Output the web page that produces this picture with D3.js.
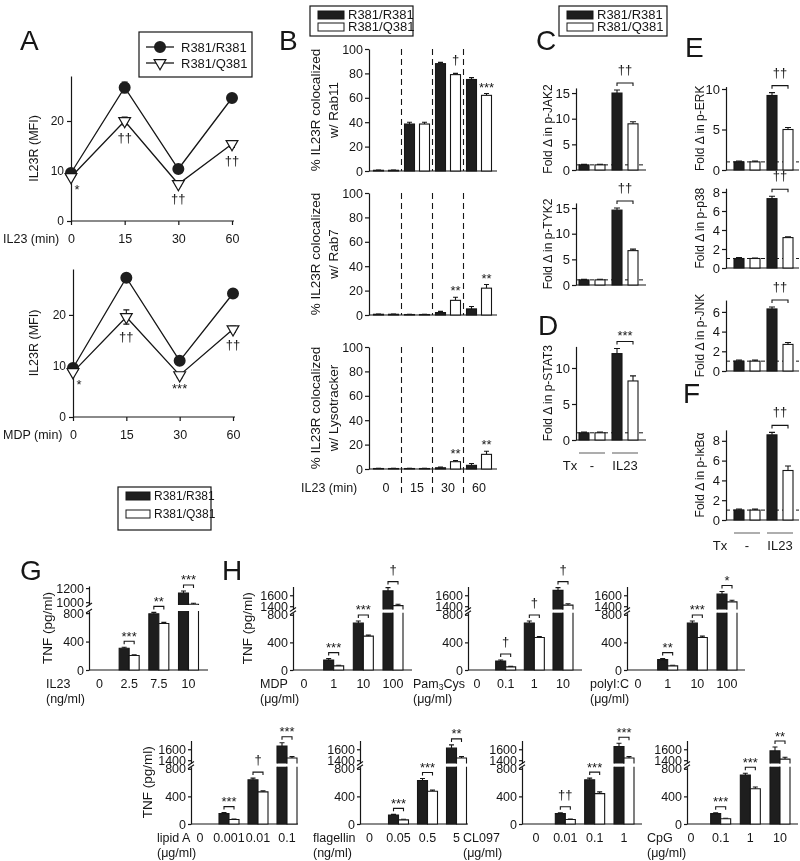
<!DOCTYPE html>
<html><head><meta charset="utf-8">
<script src="https://cdn.jsdelivr.net/npm/d3@7"></script>
<style>
body{margin:0;background:#fff}
svg{display:block;filter:grayscale(100%)}
text{font-family:"Liberation Sans",Arial,Helvetica,sans-serif}
</style>
</head><body>
<svg id="c" width="800" height="861"></svg>
<script>
// ================= DATA =================
const genotypes = ["R381/R381", "R381/Q381"];

// Panel A
const aTimes = ["0", "15", "30", "60"];
const aYTicks = [0, 10, 20];
const aIL23R = [9.6, 26.7, 10.4, 24.6];
const aIL23Q = [8.8, 20.0, 7.4, 15.4];
const aIL23Rerr = [0.4, 1.1, 0.5, 0.5];
const aIL23Qerr = [0.4, 0.8, 0.4, 0.7];
const aIL23Sig = ["*", "††", "††", "††"];
const aMDPR = [9.6, 27.3, 11.0, 24.2];
const aMDPQ = [8.8, 19.6, 8.2, 17.2];
const aMDPRerr = [0.4, 0.5, 0.5, 0.5];
const aMDPQerr = [0.4, 1.4, 0.5, 0.6];
const aMDPSig = ["*", "††", "***", "††"];

// Panel B
const bTimes = ["0", "15", "30", "60"];
const bYTicks = [0, 20, 40, 60, 80, 100];
const rab11R = [0.6, 38.5, 88, 75];
const rab11Q = [0.6, 38.5, 79, 62];
const rab11Rerr = [0.2, 1.5, 1.0, 1.5];
const rab11Qerr = [0.2, 1.5, 1.0, 1.5];
const rab11Sig = ["", "", "†", "***"];
const rab7R = [0.6, 0.4, 2, 5];
const rab7Q = [0.6, 0.4, 12, 22];
const rab7Rerr = [0.2, 0.2, 1.0, 2.0];
const rab7Qerr = [0.2, 0.2, 2.5, 3.0];
const rab7Sig = ["", "", "**", "**"];
const lysoR = [0.4, 0.4, 1, 3];
const lysoQ = [0.4, 0.4, 6, 12];
const lysoRerr = [0.1, 0.1, 0.5, 1.5];
const lysoQerr = [0.1, 0.1, 1.0, 2.5];
const lysoSig = ["", "", "**", "**"];

// Panels C-F (Tx: -, IL23)
const txGroups = ["-", "IL23"];
const jak2R = [1, 15.0], jak2Q = [1, 9.0], jak2Rerr = [0.1, 0.6], jak2Qerr = [0.1, 0.4];
const tyk2R = [1, 14.6], tyk2Q = [1, 6.7], tyk2Rerr = [0.1, 0.4], tyk2Qerr = [0.1, 0.3];
const stat3R = [1, 12.0], stat3Q = [1, 8.2], stat3Rerr = [0.1, 0.7], stat3Qerr = [0.1, 0.7];
const erkR = [1, 9.2], erkQ = [1, 5.0], erkRerr = [0.1, 0.35], erkQerr = [0.1, 0.25];
const p38R = [1, 7.3], p38Q = [1, 3.2], p38Rerr = [0.1, 0.25], p38Qerr = [0.05, 0.08];
const jnkR = [1, 6.3], jnkQ = [1, 2.7], jnkRerr = [0.1, 0.2], jnkQerr = [0.1, 0.2];
const ikbR = [1, 8.6], ikbQ = [1, 5.0], ikbRerr = [0.1, 0.25], ikbQerr = [0.1, 0.45];
const foldTicks15 = [0, 5, 10, 15];
const foldTicks10 = [0, 5, 10];
const foldTicks8 = [0, 2, 4, 6, 8];
const foldTicks6 = [0, 2, 4, 6];

// Panels G, H (TNF pg/ml)
const tnfLowTicks = [0, 400, 800];
const gDoses = ["0", "2.5", "7.5", "10"];
const gR = [0, 305, 790, 1130], gQ = [0, 205, 655, 970];
const gRerr = [0, 15, 20, 30], gQerr = [0, 10, 15, 15];
const gSig = ["", "***", "**", "***"];
const mdpDoses = ["0", "1", "10", "100"];
const mdpR = [0, 145, 680, 1680], mdpQ = [0, 60, 490, 1410];
const mdpRerr = [0, 20, 30, 60], mdpQerr = [0, 8, 15, 25];
const mdpSig = ["", "***", "***", "†"];
const pamDoses = ["0", "0.1", "1", "10"];
const pamR = [0, 130, 680, 1690], pamQ = [0, 45, 470, 1420];
const pamRerr = [0, 15, 30, 50], pamQerr = [0, 8, 15, 25];
const pamSig = ["", "†", "†", "†"];
const picDoses = ["0", "1", "10", "100"];
const picR = [0, 150, 680, 1620], picQ = [0, 60, 470, 1480];
const picRerr = [0, 15, 30, 50], picQerr = [0, 8, 20, 30];
const picSig = ["", "**", "***", "*"];
const lipDoses = ["0", "0.001", "0.01", "0.1"];
const lipR = [0, 150, 640, 1660], lipQ = [0, 65, 465, 1440];
const lipRerr = [0, 15, 25, 60], lipQerr = [0, 8, 15, 25];
const lipSig = ["", "***", "†", "***"];
const flaDoses = ["0", "0.05", "0.5", "5"];
const flaR = [0, 130, 630, 1620], flaQ = [0, 60, 475, 1440];
const flaRerr = [0, 10, 30, 60], flaQerr = [0, 8, 15, 25];
const flaSig = ["", "***", "***", "**"];
const clDoses = ["0", "0.01", "0.1", "1"];
const clR = [0, 150, 640, 1650], clQ = [0, 65, 440, 1440];
const clRerr = [0, 12, 25, 60], clQerr = [0, 8, 25, 25];
const clSig = ["", "††", "***", "***"];
const cpgDoses = ["0", "0.1", "1", "10"];
const cpgR = [0, 150, 710, 1570], cpgQ = [0, 75, 510, 1420];
const cpgRerr = [0, 12, 25, 70], cpgQerr = [0, 8, 25, 35];
const cpgSig = ["", "***", "***", "**"];

// ================= DRAWING =================
const svg = d3.select("#c");
const INK = "#161616";
const DARK = "#1e1e1e";

function T(g, x, y, s, o = {}) {
  const t = g.append("text").attr("x", x).attr("y", y).text(s)
    .attr("font-size", o.size || 13).attr("text-anchor", o.anchor || "start")
    .attr("fill", INK);
  if (o.rotate) t.attr("transform", `rotate(-90,${x},${y})`);
  return t;
}
function styleAxis(sel, fs) {
  sel.attr("font-family", null);
  sel.select(".domain").attr("stroke", INK).attr("stroke-width", 1.2);
  sel.selectAll(".tick line").attr("stroke", INK).attr("stroke-width", 1.2);
  sel.selectAll(".tick text").attr("font-size", fs).attr("fill", INK);
}
function hline(g, x1, x2, y, w = 1.2, dash = null, col = INK) {
  const l = g.append("line").attr("x1", x1).attr("x2", x2).attr("y1", y).attr("y2", y)
    .attr("stroke", col).attr("stroke-width", w);
  if (dash) l.attr("stroke-dasharray", dash);
  return l;
}
function vline(g, x, y1, y2, w = 1.2, dash = null) {
  const l = g.append("line").attr("x1", x).attr("x2", x).attr("y1", y1).attr("y2", y2)
    .attr("stroke", INK).attr("stroke-width", w);
  if (dash) l.attr("stroke-dasharray", dash);
  return l;
}

// ---------- Panel letters ----------
[["A", 20, 50], ["B", 279, 50], ["C", 536, 50], ["D", 538, 335], ["E", 685, 57],
 ["F", 683, 403], ["G", 20, 580], ["H", 222, 580]].forEach(([s, x, y]) => T(svg, x, y, s, {size: 28}));

// ---------- Legends ----------
function boxLegend(x, y, w, h) {
  svg.append("rect").attr("x", x).attr("y", y).attr("width", w).attr("height", h)
    .attr("fill", "#fff").attr("stroke", INK).attr("stroke-width", 1.2);
}
(function () {
  boxLegend(139, 32, 113, 45);
  const g = svg.append("g");
  const rows = genotypes.map((k, i) => ({k, y: 47 + i * 16, i}));
  g.selectAll("line").data(rows).join("line").attr("x1", 146).attr("x2", 174)
    .attr("y1", d => d.y).attr("y2", d => d.y).attr("stroke", INK).attr("stroke-width", 1.3);
  g.selectAll("path").data(rows).join("path")
    .attr("transform", d => `translate(160,${d.y})` + (d.i ? " rotate(180)" : ""))
    .attr("d", d => d3.symbol(d.i ? d3.symbolTriangle : d3.symbolCircle, d.i ? 60 : 113)())
    .attr("fill", d => d.i ? "#fff" : DARK).attr("stroke", INK).attr("stroke-width", d => d.i ? 1.2 : 0);
  rows.forEach(d => T(g, 181, d.y + 5, d.k, {size: 13}));
})();
function barLegend(x, y, w, h, rw, fs, step) {
  boxLegend(x, y, w, h);
  const g = svg.append("g");
  const rows = genotypes.map((k, i) => ({k, i}));
  g.selectAll("rect").data(rows).join("rect")
    .attr("x", x + 8).attr("y", d => y + 5 + d.i * step).attr("width", rw).attr("height", 8)
    .attr("fill", d => d.i ? "#fff" : DARK).attr("stroke", INK).attr("stroke-width", 1);
  rows.forEach(d => T(g, x + 12 + rw, y + 13 + d.i * step, d.k, {size: fs}));
}
barLegend(310, 6, 103, 30, 26, 13, 12);
barLegend(559, 6, 108, 30, 26, 13, 12);
barLegend(118, 487, 93, 43, 24, 12, 18);

// ---------- Panel A ----------
function drawA(cfg) {
  const g = svg.append("g");
  const x = d3.scalePoint().domain(aTimes).range([cfg.x0, cfg.x1]);
  const y = d3.scaleLinear().domain([0, 29]).range([cfg.yB, cfg.yT]);
  const ya = g.append("g").attr("transform", `translate(${cfg.x0},0)`)
    .call(d3.axisLeft(y).tickValues(aYTicks).tickSize(4).tickSizeOuter(0).tickPadding(3));
  styleAxis(ya, 12);
  const xa = g.append("g").attr("transform", `translate(0,${cfg.yB})`)
    .call(d3.axisBottom(x).tickSize(4).tickSizeOuter(0).tickPadding(9));
  styleAxis(xa, 12.5);
  xa.select(".domain").attr("d", `M${cfg.x0},0H${cfg.x1 + 2}`);
  T(g, 3, cfg.yB + 22, cfg.xlabel, {size: 12.5});
  T(g, 38, (cfg.yB + cfg.yT) / 2, "IL23R (MFI)", {size: 12.5, anchor: "middle", rotate: true});
  const series = [{v: cfg.R, e: cfg.Rerr, i: 0}, {v: cfg.Q, e: cfg.Qerr, i: 1}];
  series.forEach(s => {
    g.append("g").selectAll("path").data(aTimes).join("path")
      .attr("d", (d, i) => {
        const cx = x(d), t = y(s.v[i] + s.e[i]), b = y(s.v[i] - s.e[i]);
        return `M${cx - 3},${t}H${cx + 3}M${cx},${t}V${b}M${cx - 3},${b}H${cx + 3}`;
      })
      .attr("stroke", INK).attr("stroke-width", 1.1).attr("fill", "none");
  });
  const line = d3.line().x((d, i) => x(aTimes[i])).y(d => y(d));
  series.forEach(s => g.append("path").datum(s.v).attr("d", line).attr("fill", "none")
    .attr("stroke", INK).attr("stroke-width", 1.3));
  g.append("g").selectAll("path").data(cfg.R).join("path")
    .attr("transform", (d, i) => `translate(${x(aTimes[i])},${y(d)})`)
    .attr("d", d3.symbol(d3.symbolCircle, 113)).attr("fill", DARK);
  g.append("g").selectAll("path").data(cfg.Q).join("path")
    .attr("transform", (d, i) => `translate(${x(aTimes[i])},${y(d)}) rotate(180)`)
    .attr("d", d3.symbol(d3.symbolTriangle, 60)).attr("fill", "#fff")
    .attr("stroke", INK).attr("stroke-width", 1.2);
  g.append("g").selectAll("text").data(cfg.sig).join("text")
    .attr("x", (d, i) => x(aTimes[i]) + (i === 0 ? 6 : 0))
    .attr("y", (d, i) => y(cfg.Q[i] - cfg.Qerr[i]) + (d.includes("*") ? 15 : 17))
    .attr("text-anchor", "middle").attr("font-size", 13).attr("fill", INK).text(d => d);
}
drawA({x0: 71, x1: 232, yB: 221, yT: 76, R: aIL23R, Q: aIL23Q, Rerr: aIL23Rerr, Qerr: aIL23Qerr, sig: aIL23Sig, xlabel: "IL23 (min)"});
drawA({x0: 73, x1: 233, yB: 417, yT: 269, R: aMDPR, Q: aMDPQ, Rerr: aMDPRerr, Qerr: aMDPQerr, sig: aMDPSig, xlabel: "MDP (min)"});

// ---------- Panel B ----------
function drawB(cfg) {
  const g = svg.append("g");
  const ax = 369, xEnd = 497;
  const x0 = d3.scaleBand().domain(bTimes).range([370.5, 494.5]);
  const x1 = d3.scaleBand().domain(genotypes).range([0, x0.bandwidth()]).paddingInner(1 / 3).paddingOuter(0.2);
  const y = d3.scaleLinear().domain([0, 100]).range([cfg.yB, cfg.yB - 122]);
  const ya = g.append("g").attr("transform", `translate(${ax},0)`)
    .call(d3.axisLeft(y).tickValues(bYTicks).tickSize(4).tickSizeOuter(0).tickPadding(2));
  styleAxis(ya, 12.5);
  hline(g, ax, xEnd, cfg.yB);
  bTimes.slice(1).forEach(t => vline(g, x0(t), y(100), cfg.last ? cfg.yB + 27 : cfg.yB, 1.1, "6,4"));
  const bars = [];
  bTimes.forEach((t, i) => {
    bars.push({t, k: genotypes[0], v: cfg.R[i], e: cfg.Rerr[i]});
    bars.push({t, k: genotypes[1], v: cfg.Q[i], e: cfg.Qerr[i]});
  });
  const bw = x1.bandwidth();
  g.append("g").selectAll("path").data(bars).join("path")
    .attr("d", d => { const cx = x0(d.t) + x1(d.k) + bw / 2, t = y(d.v + d.e);
      return `M${cx},${y(d.v)}V${t}M${cx - 2.5},${t}H${cx + 2.5}`; })
    .attr("stroke", INK).attr("stroke-width", 1.1);
  g.append("g").selectAll("rect").data(bars).join("rect")
    .attr("x", d => x0(d.t) + x1(d.k)).attr("width", bw)
    .attr("y", d => y(d.v)).attr("height", d => cfg.yB - y(d.v))
    .attr("fill", d => d.k === genotypes[0] ? DARK : "#fff").attr("stroke", INK).attr("stroke-width", 1.1);
  g.append("g").selectAll("text").data(cfg.sig).join("text")
    .attr("x", (d, i) => x0(bTimes[i]) + x1(genotypes[1]) + bw / 2)
    .attr("y", (d, i) => y(cfg.Q[i] + cfg.Qerr[i]) - (d.includes("*") ? 2 : 9))
    .attr("text-anchor", "middle").attr("font-size", 13).attr("fill", INK).text(d => d);
  const cy = cfg.yB - 61;
  T(g, 320, cy, "% IL23R colocalized", {size: 13.5, anchor: "middle", rotate: true});
  T(g, 338, cy, cfg.label2, {size: 13.5, anchor: "middle", rotate: true});
  if (cfg.last) {
    T(g, 301, cfg.yB + 23, "IL23 (min)", {size: 12.5});
    g.append("g").selectAll("text").data(bTimes).join("text")
      .attr("x", d => x0(d) + x0.bandwidth() / 2).attr("y", cfg.yB + 23)
      .attr("text-anchor", "middle").attr("font-size", 12.5).attr("fill", INK).text(d => d);
  }
}
drawB({yB: 171, R: rab11R, Q: rab11Q, Rerr: rab11Rerr, Qerr: rab11Qerr, sig: rab11Sig, label2: "w/ Rab11"});
drawB({yB: 315, R: rab7R, Q: rab7Q, Rerr: rab7Rerr, Qerr: rab7Qerr, sig: rab7Sig, label2: "w/ Rab7"});
drawB({yB: 469, R: lysoR, Q: lysoQ, Rerr: lysoRerr, Qerr: lysoQerr, sig: lysoSig, label2: "w/ Lysotracker", last: true});

// ---------- Panels C-F ----------
function drawFold(cfg) {
  const g = svg.append("g");
  const x0 = d3.scaleBand().domain(txGroups).range([cfg.bx, cfg.bx + 66]);
  const x1 = d3.scaleBand().domain(genotypes).range([0, 30]).paddingInner(0.375).paddingOuter(0.125);
  const y = d3.scaleLinear().domain([0, cfg.top]).range([cfg.yB, cfg.yB - cfg.top * cfg.ppu]);
  const bw = x1.bandwidth();
  hline(g, cfg.ax, cfg.xEnd, y(1), 1, "4,3");
  const ya = g.append("g").attr("transform", `translate(${cfg.ax},0)`)
    .call(d3.axisLeft(y).tickValues(cfg.ticks).tickSize(4).tickSizeOuter(0).tickPadding(2));
  styleAxis(ya, 13);
  hline(g, cfg.ax, cfg.xEnd, cfg.yB);
  const bars = [];
  txGroups.forEach((t, i) => {
    bars.push({t, k: genotypes[0], v: cfg.R[i], e: cfg.Rerr[i]});
    bars.push({t, k: genotypes[1], v: cfg.Q[i], e: cfg.Qerr[i]});
  });
  g.append("g").selectAll("path").data(bars).join("path")
    .attr("d", d => { const cx = x0(d.t) + x1(d.k) + bw / 2, t = y(d.v + d.e);
      return `M${cx},${y(d.v)}V${t}M${cx - 3},${t}H${cx + 3}`; })
    .attr("stroke", INK).attr("stroke-width", 1.1);
  g.append("g").selectAll("rect").data(bars).join("rect")
    .attr("x", d => x0(d.t) + x1(d.k)).attr("width", bw)
    .attr("y", d => y(d.v)).attr("height", d => cfg.yB - y(d.v))
    .attr("fill", d => d.k === genotypes[0] ? DARK : "#fff").attr("stroke", INK).attr("stroke-width", 1.1);
  const xa = x0("IL23") + x1(genotypes[0]) + bw / 2, xb = x0("IL23") + x1(genotypes[1]) + bw / 2;
  const by = y(Math.max(cfg.R[1] + cfg.Rerr[1], cfg.Q[1] + cfg.Qerr[1])) - 7;
  g.append("path").attr("d", `M${xa},${by + 3}V${by}H${xb}V${by + 3}`).attr("fill", "none")
    .attr("stroke", INK).attr("stroke-width", 1.1);
  const star = cfg.sig.includes("*");
  T(g, (xa + xb) / 2, star ? by - 2 : by - 9, cfg.sig, {size: 13, anchor: "middle"});
  T(g, cfg.lx, (cfg.yB + y(cfg.top)) / 2, "Fold \u0394 in " + cfg.label, {size: 12, anchor: "middle", rotate: true});
  if (cfg.tx) {
    const ly = cfg.yB + 13;
    txGroups.forEach(t => hline(g, x0(t) + 2, x0(t) + 28, ly, 1.2, null, "#777"));
    T(g, cfg.ax - 6, ly + 17, "Tx", {size: 13, anchor: "middle"});
    g.append("g").selectAll("text").data(txGroups).join("text")
      .attr("x", d => x0(d) + 15).attr("y", ly + 17).attr("text-anchor", "middle")
      .attr("font-size", 13).attr("fill", INK).text(d => d);
  }
}
const cCol = {ax: 576, bx: 577, xEnd: 646, lx: 552};
const eCol = {ax: 726, bx: 732, xEnd: 799, lx: 704};
drawFold({...cCol, yB: 170, top: 16, ppu: 5.13, ticks: foldTicks15, R: jak2R, Q: jak2Q, Rerr: jak2Rerr, Qerr: jak2Qerr, sig: "††", label: "p-JAK2"});
drawFold({...cCol, yB: 285, top: 16, ppu: 5.13, ticks: foldTicks15, R: tyk2R, Q: tyk2Q, Rerr: tyk2Rerr, Qerr: tyk2Qerr, sig: "††", label: "p-TYK2"});
drawFold({...cCol, yB: 440, top: 13, ppu: 7.2, ticks: foldTicks10, R: stat3R, Q: stat3Q, Rerr: stat3Rerr, Qerr: stat3Qerr, sig: "***", label: "p-STAT3", tx: true});
drawFold({...eCol, yB: 170, top: 10.3, ppu: 8.1, ticks: foldTicks10, R: erkR, Q: erkQ, Rerr: erkRerr, Qerr: erkQerr, sig: "††", label: "p-ERK"});
drawFold({...eCol, yB: 268, top: 8.4, ppu: 9.5, ticks: foldTicks8, R: p38R, Q: p38Q, Rerr: p38Rerr, Qerr: p38Qerr, sig: "††", label: "p-p38"});
drawFold({...eCol, yB: 371, top: 7.2, ppu: 9.85, ticks: foldTicks6, R: jnkR, Q: jnkQ, Rerr: jnkRerr, Qerr: jnkQerr, sig: "††", label: "p-JNK"});
drawFold({...eCol, yB: 520, top: 9.1, ppu: 9.9, ticks: foldTicks8, R: ikbR, Q: ikbQ, Rerr: ikbRerr, Qerr: ikbQerr, sig: "††", label: "p-I\u03BAB\u03B1", tx: true});

// ---------- Panels G, H ----------
function drawTNF(cfg) {
  const g = svg.append("g");
  const x = d3.scalePoint().domain(cfg.cats).range(cfg.xr);
  const yL = d3.scaleLinear().domain(cfg.lowDom).range(cfg.lowRng);
  const yU = d3.scaleLinear().domain(cfg.upDom).range(cfg.upRng);
  const lowMax = cfg.lowDom[1];
  const yv = v => v <= lowMax ? yL(v) : yU(v);
  const y0 = yL(0), lowTop = cfg.lowRng[1], upBot = cfg.upRng[0];
  const aL = g.append("g").attr("transform", `translate(${cfg.ax},0)`)
    .call(d3.axisLeft(yL).tickValues(tnfLowTicks).tickFormat(d3.format("d")).tickSize(3).tickSizeOuter(0).tickPadding(2));
  styleAxis(aL, 12.5);
  const aU = g.append("g").attr("transform", `translate(${cfg.ax},0)`)
    .call(d3.axisLeft(yU).tickValues(cfg.upTicks).tickFormat(d3.format("d")).tickSize(3).tickSizeOuter(0).tickPadding(2));
  styleAxis(aU, 12.5);
  [lowTop, upBot].forEach(yy => g.append("line").attr("x1", cfg.ax - 3).attr("x2", cfg.ax + 3)
    .attr("y1", yy + 2).attr("y2", yy - 2).attr("stroke", INK).attr("stroke-width", 1.1));
  hline(g, cfg.ax, cfg.xEnd, y0);
  const bw = 10;
  const bars = [];
  cfg.cats.forEach((c, i) => {
    bars.push({c, k: 0, v: cfg.R[i], e: cfg.Rerr[i]});
    bars.push({c, k: 1, v: cfg.Q[i], e: cfg.Qerr[i]});
  });
  const vis = bars.filter(d => d.v > 0);
  const left = d => x(d.c) + (d.k === 0 ? -bw : 0);
  g.append("g").selectAll("path").data(vis).join("path")
    .attr("d", d => { const cx = left(d) + bw / 2, t = yv(d.v + d.e);
      return `M${cx},${yv(d.v)}V${t}M${cx - 2.5},${t}H${cx + 2.5}`; })
    .attr("stroke", INK).attr("stroke-width", 1.1);
  g.append("g").selectAll("path").data(vis).join("path")
    .attr("d", d => {
      const xl = left(d), top = d.v <= lowMax ? yL(d.v) : lowTop;
      return d.v <= lowMax ? `M${xl},${y0}V${top}H${xl + bw}V${y0}Z` : `M${xl},${top}V${y0}H${xl + bw}V${top}`;
    })
    .attr("fill", d => d.k === 0 ? DARK : "#fff").attr("stroke", INK).attr("stroke-width", 1.1);
  g.append("g").selectAll("path").data(vis.filter(d => d.v > lowMax)).join("path")
    .attr("d", d => { const xl = left(d), t = yU(d.v); return `M${xl},${upBot}V${t}H${xl + bw}V${upBot}`; })
    .attr("fill", d => d.k === 0 ? DARK : "#fff").attr("stroke", INK).attr("stroke-width", 1.1);
  const sigs = cfg.cats.map((c, i) => ({c, s: cfg.sig[i], top: Math.max(cfg.R[i] + cfg.Rerr[i], cfg.Q[i] + cfg.Qerr[i])})).filter(d => d.s);
  g.append("g").selectAll("path").data(sigs).join("path")
    .attr("d", d => { const by = yv(d.top) - 6, xa = x(d.c) - bw / 2, xb = x(d.c) + bw / 2;
      return `M${xa},${by + 3}V${by}H${xb}V${by + 3}`; })
    .attr("fill", "none").attr("stroke", INK).attr("stroke-width", 1.1);
  g.append("g").selectAll("text").data(sigs).join("text")
    .attr("x", d => x(d.c)).attr("y", d => yv(d.top) - 6 + (d.s.includes("*") ? -0.5 : -8))
    .attr("text-anchor", "middle").attr("font-size", 13).attr("fill", INK).text(d => d.s);
  g.append("g").selectAll("text").data(cfg.cats).join("text")
    .attr("x", d => x(d)).attr("y", cfg.labY).attr("text-anchor", "middle")
    .attr("font-size", 12.5).attr("fill", INK).text(d => d);
  const t1 = g.append("text").attr("x", cfg.nameX).attr("y", cfg.labY).attr("font-size", 12.5).attr("fill", INK);
  cfg.name.forEach(p => {
    const ts = t1.append("tspan").text(p.t);
    if (p.sub) ts.attr("font-size", 8.5).attr("dy", 2);
    else if (t1.selectAll("tspan").size() > 1) ts.attr("dy", -2);
  });
  T(g, cfg.nameX, cfg.labY + 15, cfg.unit, {size: 12.5});
  if (cfg.ylab) T(g, cfg.ylab, (y0 + cfg.upRng[1]) / 2, "TNF (pg/ml)", {size: 13.5, anchor: "middle", rotate: true});
}
const topRow = {lowDom: [0, 830], lowRng: [670, 612.7], upDom: [1340, 1760], upRng: [609.5, 586.5], upTicks: [1400, 1600], labY: 688};
const botRow = {lowDom: [0, 830], lowRng: [824, 766.7], upDom: [1340, 1760], upRng: [763.5, 740.5], upTicks: [1400, 1600], labY: 842};
drawTNF({cats: gDoses, xr: [99.5, 188.5], ax: 89, xEnd: 208, lowDom: [0, 830], lowRng: [670, 611], upDom: [960, 1230], upRng: [605, 586], upTicks: [1000, 1200], labY: 688,
  R: gR, Q: gQ, Rerr: gRerr, Qerr: gQerr, sig: gSig, name: [{t: "IL23"}], unit: "(ng/ml)", nameX: 46, ylab: 52});
drawTNF({...topRow, cats: mdpDoses, xr: [304, 393], ax: 293, xEnd: 412, R: mdpR, Q: mdpQ, Rerr: mdpRerr, Qerr: mdpQerr, sig: mdpSig,
  name: [{t: "MDP"}], unit: "(\u03BCg/ml)", nameX: 260, ylab: 252});
drawTNF({...topRow, cats: pamDoses, xr: [477, 563], ax: 468, xEnd: 582, R: pamR, Q: pamQ, Rerr: pamRerr, Qerr: pamQerr, sig: pamSig,
  name: [{t: "Pam"}, {t: "3", sub: true}, {t: "Cys"}], unit: "(\u03BCg/ml)", nameX: 413});
drawTNF({...topRow, cats: picDoses, xr: [638, 727], ax: 627, xEnd: 745, R: picR, Q: picQ, Rerr: picRerr, Qerr: picQerr, sig: picSig,
  name: [{t: "polyI:C"}], unit: "(\u03BCg/ml)", nameX: 590});
drawTNF({...botRow, cats: lipDoses, xr: [200, 287], ax: 191, xEnd: 298, R: lipR, Q: lipQ, Rerr: lipRerr, Qerr: lipQerr, sig: lipSig,
  name: [{t: "lipid A"}], unit: "(\u03BCg/ml)", nameX: 157, ylab: 152});
drawTNF({...botRow, cats: flaDoses, xr: [369.5, 456.5], ax: 360, xEnd: 468, R: flaR, Q: flaQ, Rerr: flaRerr, Qerr: flaQerr, sig: flaSig,
  name: [{t: "flagellin"}], unit: "(ng/ml)", nameX: 313});
drawTNF({...botRow, cats: clDoses, xr: [536, 624], ax: 522, xEnd: 642, R: clR, Q: clQ, Rerr: clRerr, Qerr: clQerr, sig: clSig,
  name: [{t: "CL097"}], unit: "(\u03BCg/ml)", nameX: 463});
drawTNF({...botRow, cats: cpgDoses, xr: [691, 780], ax: 687, xEnd: 798, R: cpgR, Q: cpgQ, Rerr: cpgRerr, Qerr: cpgQerr, sig: cpgSig,
  name: [{t: "CpG"}], unit: "(\u03BCg/ml)", nameX: 647});
</script>
</body></html>
